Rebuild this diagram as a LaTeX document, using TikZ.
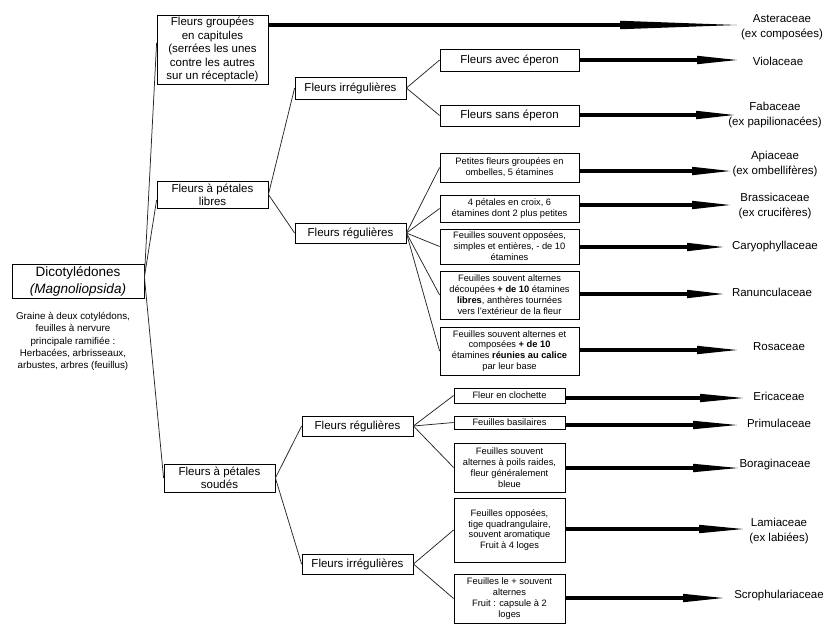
\documentclass[tikz,border=0pt]{standalone}
\usepackage{fontspec}
\setmainfont{Liberation Sans}
\usetikzlibrary{arrows.meta}
\tikzset{
  bx/.style={draw=black, line width=0.8pt, inner sep=0pt, align=center, font=\fontsize{11.5}{13.5}\selectfont},
  sbx/.style={bx, font=\fontsize{9.3}{10.9}\selectfont},
  lab/.style={inner sep=0pt, align=center, font=\fontsize{11.5}{15}\selectfont},
  conn/.style={draw=black!85, line width=0.75pt},
  bigarrow/.style={line width=4pt, draw=black, -{Triangle[length=#1, width=8.5pt, line width=0pt 0 0]}},
  bigarrow/.default=40pt
}
\begin{document}
\begin{tikzpicture}[x=1pt,y=-1pt]
\useasboundingbox (0,0) rectangle (834,630);
% root
\node[bx, minimum width=132pt, minimum height=34pt, font=\fontsize{13.5}{17}\selectfont] (dic) at (78,281) {Dicotylédones\\\textit{(Magnoliopsida)}};
\node[inner sep=0pt, align=center, font=\fontsize{9.8}{12.2}\selectfont] (gr) at (73,341.5) {Graine à deux cotylédons,\\feuilles à nervure\\principale ramifiée :\\Herbacées, arbrisseaux,\\arbustes, arbres (feuillus)};
\coordinate (dj) at ([yshift=4pt]dic.east);
% level 1
\node[bx, minimum width=111pt, minimum height=69pt] (b1) at (212.5,49.5) {Fleurs groupées\\en capitules\\(serrées les unes\\contre les autres\\sur un réceptacle)};
\node[bx, minimum width=111pt, minimum height=27pt, font=\fontsize{11.5}{13}\selectfont] (lib) at (212.5,194.5) {Fleurs à pétales\\libres};
\node[bx, minimum width=111pt, minimum height=28pt, font=\fontsize{11.5}{13}\selectfont] (sou) at (219.5,478) {Fleurs à pétales\\soudés};
% level 2
\node[bx, minimum width=111pt, minimum height=22pt] (irr1) at (350.5,88) {Fleurs irrégulières};
\node[bx, minimum width=111pt, minimum height=20pt] (reg1) at (350.5,233) {Fleurs régulières};
\node[bx, minimum width=111pt, minimum height=20pt] (reg2) at (357.5,426) {Fleurs régulières};
\node[bx, minimum width=111pt, minimum height=20pt] (irr2) at (357.5,564) {Fleurs irrégulières};
% level 3 (upper)
\node[bx, minimum width=139pt, minimum height=22pt] (av) at (509.5,60) {Fleurs avec éperon};
\node[bx, minimum width=139pt, minimum height=21pt] (sa) at (509.5,115.5) {Fleurs sans éperon};
\node[sbx, minimum width=139pt, minimum height=29pt] (pe) at (509.5,167.5) {Petites fleurs groupées en\\ombelles, 5 étamines};
\node[sbx, minimum width=139pt, minimum height=27pt] (qu) at (509.5,208.5) {4 pétales en croix, 6\\étamines dont 2 plus petites};
\node[sbx, minimum width=139pt, minimum height=35pt] (op) at (509.5,246.5) {Feuilles souvent opposées,\\simples et entières, - de 10\\étamines};
\node[sbx, minimum width=139pt, minimum height=48pt] (ra) at (509.5,295) {Feuilles souvent alternes\\découpées \textbf{+ de 10} étamines\\\textbf{libres}, anthères tournées\\vers l'extérieur de la fleur};
\node[sbx, minimum width=139pt, minimum height=48pt] (ro) at (509.5,351) {Feuilles souvent alternes et\\composées \textbf{+ de 10}\\étamines \textbf{réunies au calice}\\par leur base};
% level 3 (lower)
\node[sbx, minimum width=111pt, minimum height=15pt] (cl) at (509.5,395.5) {Fleur en clochette};
\node[sbx, minimum width=111pt, minimum height=13pt] (ba) at (509.5,422.5) {Feuilles basilaires};
\node[sbx, minimum width=111pt, minimum height=49pt] (po) at (509.5,467.5) {Feuilles souvent\\alternes à poils raides,\\fleur généralement\\bleue};
\node[sbx, minimum width=111pt, minimum height=64pt] (ti) at (509.5,530) {Feuilles opposées,\\tige quadrangulaire,\\souvent aromatique\\Fruit à 4 loges};
\node[sbx, minimum width=111pt, minimum height=49pt] (ca) at (509.5,598.5) {Feuilles le + souvent\\alternes\\Fruit : capsule à 2\\loges};
% family labels
\node[lab] (lAst) at (782,27.5) {Asteraceae\\(ex composées)};
\node[lab] (lVio) at (778,61) {Violaceae};
\node[lab] (lFab) at (775,115.5) {Fabaceae\\(ex papilionacées)};
\node[lab] (lApi) at (775,164.5) {Apiaceae\\(ex ombellifères)};
\node[lab] (lBra) at (775,206) {Brassicaceae\\(ex crucifères)};
\node[lab] (lCar) at (775,247) {Caryophyllaceae};
\node[lab] (lRan) at (772,292) {Ranunculaceae};
\node[lab] (lRos) at (779,347) {Rosaceae};
\node[lab] (lEri) at (779,396) {Ericaceae};
\node[lab] (lPri) at (779,423) {Primulaceae};
\node[lab] (lBor) at (775,465) {Boraginaceae};
\node[lab] (lLam) at (779,531) {Lamiaceae\\(ex labiées)};
\node[lab] (lScr) at (779,596) {Scrophulariaceae};
% arrow tips
\coordinate (tAst) at (737,25);
\coordinate (tVio) at (737,60);
\coordinate (tFab) at (734,115);
\coordinate (tApi) at (730,171);
\coordinate (tBra) at (730,205);
\coordinate (tCar) at (723,247);
\coordinate (tRan) at (723,294);
\coordinate (tRos) at (737,350);
\coordinate (tEri) at (743,398);
\coordinate (tPri) at (737,425);
\coordinate (tBor) at (738,468);
\coordinate (tLam) at (743,529);
\coordinate (tScr) at (723,598);
% connectors
\draw[conn] (dj) -- ([yshift=6.5pt]b1.west);
\draw[conn] (dj) -- ([yshift=-5.5pt]lib.west);
\draw[conn] (dj) -- (sou.west);
\draw[conn] (lib.east) -- (irr1.west);
\draw[conn] (lib.east) -- (reg1.west);
\draw[conn] (irr1.east) -- (av.west);
\draw[conn] (irr1.east) -- (sa.west);
\foreach \n in {pe,qu,op,ra,ro} \draw[conn] (reg1.east) -- (\n.west);
\draw[conn] (sou.east) -- (reg2.west);
\draw[conn] (sou.east) -- (irr2.west);
\foreach \n in {cl,ba,po} \draw[conn] (reg2.east) -- (\n.west);
\foreach \n in {ti,ca} \draw[conn] (irr2.east) -- (\n.west);
% big arrows
\draw[bigarrow=117pt] (b1.east |- tAst) -- (tAst);
\draw[bigarrow] (av.east |- tVio) -- (tVio);
\draw[bigarrow=38pt] (sa.east |- tFab) -- (tFab);
\draw[bigarrow=38pt] (pe.east |- tApi) -- (tApi);
\draw[bigarrow=38pt] (qu.east |- tBra) -- (tBra);
\draw[bigarrow=36pt] (op.east |- tCar) -- (tCar);
\draw[bigarrow=36pt] (ra.east |- tRan) -- (tRan);
\draw[bigarrow] (ro.east |- tRos) -- (tRos);
\draw[bigarrow=43pt] (cl.east |- tEri) -- (tEri);
\draw[bigarrow=44pt] (ba.east |- tPri) -- (tPri);
\draw[bigarrow=45pt] (po.east |- tBor) -- (tBor);
\draw[bigarrow=44pt] (ti.east |- tLam) -- (tLam);
\draw[bigarrow] (ca.east |- tScr) -- (tScr);
\end{tikzpicture}
\end{document}
